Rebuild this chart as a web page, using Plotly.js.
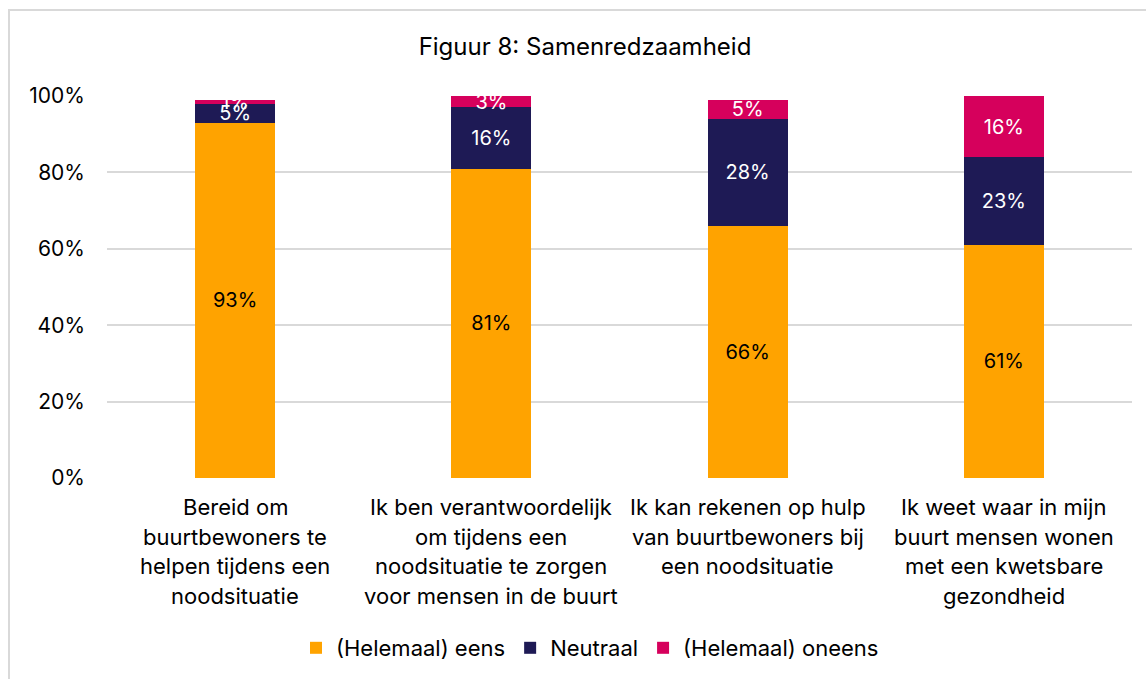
<!DOCTYPE html>
<html>
<head>
<meta charset="utf-8">
<script src="https://cdn.plot.ly/plotly-3.0.1.min.js"></script>
<style>
html,body{margin:0;padding:0;background:#fff;}
#chart{width:1146px;height:679px;}
#frame{position:absolute;left:8px;top:9px;width:1200px;height:700px;border-left:2px solid #d9d9d9;border-top:2px solid #d9d9d9;pointer-events:none;}
</style>
</head>
<body>
<div id="chart"></div>
<div id="frame"></div>
<script>
const categories = [
  "Bereid om buurtbewoners te helpen tijdens een noodsituatie",
  "Ik ben verantwoordelijk om tijdens een noodsituatie te zorgen voor mensen in de buurt",
  "Ik kan rekenen op hulp van buurtbewoners bij een noodsituatie",
  "Ik weet waar in mijn buurt mensen wonen met een kwetsbare gezondheid"
];
const categoryLines = [
  ["Bereid om", "buurtbewoners te", "helpen tijdens een", "noodsituatie"],
  ["Ik ben verantwoordelijk", "om tijdens een", "noodsituatie te zorgen", "voor mensen in de buurt"],
  ["Ik kan rekenen op hulp", "van buurtbewoners bij", "een noodsituatie"],
  ["Ik weet waar in mijn", "buurt mensen wonen", "met een kwetsbare", "gezondheid"]
];
const seriesNames = ["(Helemaal) eens", "Neutraal", "(Helemaal) oneens"];
const eens = [0.93, 0.81, 0.66, 0.61];
const neutraal = [0.05, 0.16, 0.28, 0.23];
const oneens = [0.01, 0.03, 0.05, 0.16];
const colors = ["#FFA300", "#1E1A55", "#D6005C"];
const textColors = ["#000000", "#ffffff", "#ffffff"];

const FONT = "Inter, Open Sans, sans-serif";
const values = [eens, neutraal, oneens];
const traces = values.map((v, i) => ({
  type: "bar",
  name: seriesNames[i],
  x: categories,
  y: v,
  marker: {color: colors[i]},
  text: v.map(d => Math.round(d * 100) + "%"),
  textposition: "inside",
  insidetextanchor: "middle",
  constraintext: "none",
  textangle: 0,
  textfont: {family: FONT, size: 20, color: textColors[i]},
  hoverinfo: "none"
}));

const annotations = [];
categoryLines.forEach((lines, ci) => {
  lines.forEach((ln, li) => {
    annotations.push({
      x: categories[ci], y: 0, xref: "x", yref: "y",
      text: ln, showarrow: false,
      yanchor: "middle", yshift: -29 - 29.7 * li,
      font: {family: FONT, size: 22, color: "#000"}
    });
  });
});

const layout = {
  width: 1146, height: 679,
  margin: {l: 107, r: 14, t: 96, b: 201},
  paper_bgcolor: "#fff", plot_bgcolor: "#fff",
  barmode: "stack",
  bargap: 0.688,
  showlegend: true,
  title: {text: "Figuur 8: Samenredzaamheid", x: 585/1146, xanchor: "center", xref: "container",
          y: 1 - 47/679, yanchor: "middle", yref: "container",
          font: {family: FONT, size: 24, color: "#000"}},
  xaxis: {showticklabels: false, showgrid: false, zeroline: false, showline: false, ticks: ""},
  yaxis: {range: [0, 1], dtick: 0.2, tickformat: ".0%", showgrid: true, gridcolor: "#d9d9d9", gridwidth: 2,
          zeroline: false, showline: false, ticks: "", ticklabelstandoff: 21,
          tickfont: {family: FONT, size: 21, color: "#000"}},
  legend: {orientation: "h", xref: "container", yref: "container", x: 590/1146, xanchor: "center",
           y: 1 - 648/679, yanchor: "middle", traceorder: "normal",
           font: {family: FONT, size: 22, color: "#000"}, itemwidth: 30},
  annotations: annotations
};

Plotly.newPlot("chart", traces, layout, {displayModeBar: false, staticPlot: true});
</script>
</body>
</html>
